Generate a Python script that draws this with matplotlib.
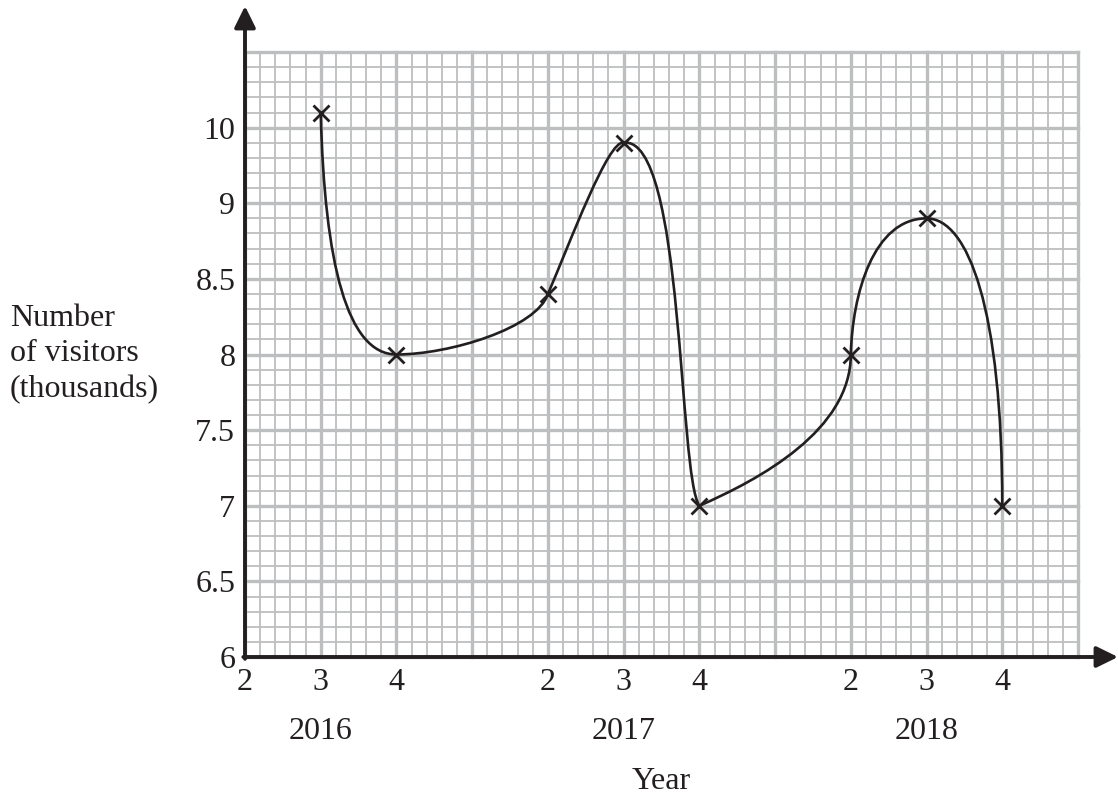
import numpy as np
import matplotlib
matplotlib.use("Agg")
import matplotlib.pyplot as plt
from matplotlib.path import Path
from matplotlib.patches import PathPatch

plt.rcParams['font.family'] = ['Liberation Serif', 'DejaVu Serif']
ink = '#231f20'
grey = '#bcbec0'

# data: visitors (thousands) per quarter
years = np.array([2016, 2016, 2017, 2017, 2017, 2018, 2018, 2018])
quarters = np.array([3, 4, 2, 3, 4, 2, 3, 4])
visitors = np.array([10.2, 8.0, 8.4, 9.8, 7.0, 8.0, 8.9, 7.0])

# the vertical scale is not uniform: each major square is one of these steps
y_ticks = [6, 6.5, 7, 7.5, 8, 8.5, 9, 10, 11]
y_labels = ['6', '6.5', '7', '7.5', '8', '8.5', '9', '10', '']
x_labels = ['2', '3', '4', '', '2', '3', '4', '', '2', '3', '4', '']
year_labels = [2016, 2017, 2018]

y_idx = np.arange(len(y_ticks))
fwd = lambda v: np.interp(v, y_ticks, y_idx)
inv = lambda p: np.interp(p, y_idx, y_ticks)

# quarter index counted from Q2 2016
xq = (years - 2016) * 4 + quarters - 2

# bezier handles (grid squares) for the hand-drawn curve
h_out = [(0.05, -2.0), (0.7, 0.0), (0.3, 0.7), (0.8, 0.1), (0.8, 0.35), (0.02, 0.8), (0.55, 0.0)]
h_in = [(-0.65, 0.0), (-0.15, -0.45), (-0.2, 0.05), (-0.28, 0.4), (0.0, -1.0), (-0.7, 0.0), (0.0, 2.6)]

fig = plt.figure(figsize=(11.18, 7.99), dpi=100)
ax = fig.add_axes([245 / 1118, 1 - 657 / 799, 833 / 1118, 605 / 799])
ax.set_yscale('function', functions=(fwd, inv))
ax.set_xlim(0, 11)
ax.set_ylim(6, 11)

# graph paper
ax.set_xticks(range(12), labels=x_labels)
ax.set_xticks(np.arange(0, 11.01, 0.2), minor=True)
ax.set_yticks(y_ticks, labels=y_labels)
ax.set_yticks(inv(np.arange(0, 8.01, 0.2)), minor=True)
ax.grid(which='minor', color=grey, lw=1.3)
ax.grid(which='major', color=grey, lw=2.4)
for ln in ax.get_xgridlines() + ax.get_ygridlines():
    ln.set_clip_on(False)
ax.set_axisbelow(True)
ax.tick_params(which='both', length=0, labelsize=23, labelcolor=ink)
ax.tick_params(axis='y', pad=7)
ax.tick_params(axis='x', pad=8)
for s in ax.spines.values():
    s.set_visible(False)

# axes with arrow heads
arr = dict(arrowstyle='-|>,head_length=0.65,head_width=0.32', color=ink, lw=2.8,
           mutation_scale=20, shrinkA=0, shrinkB=0)
ax.annotate('', xy=(0, 1.076), xytext=(0, -0.003), xycoords='axes fraction', arrowprops=arr)
ax.annotate('', xy=(1.048, 0), xytext=(-0.002, 0), xycoords='axes fraction', arrowprops=arr)

# smooth curve through the points
yq = fwd(visitors)
verts = [(xq[0], yq[0])]
codes = [Path.MOVETO]
for i in range(len(xq) - 1):
    verts += [(xq[i] + h_out[i][0], yq[i] + h_out[i][1]),
              (xq[i + 1] + h_in[i][0], yq[i + 1] + h_in[i][1]),
              (xq[i + 1], yq[i + 1])]
    codes += [Path.CURVE4] * 3
verts = np.array(verts)
verts[:, 1] = inv(verts[:, 1])
ax.add_patch(PathPatch(Path(verts, codes), fill=False, ec=ink, lw=1.9,
                       transform=ax.transData, zorder=3))

ax.plot(xq, visitors, ls='none', marker='x', ms=11.5, mew=2.0, color=ink, zorder=4)

for k, yr in enumerate(year_labels):
    ax.text((yr - 2016) * 4 + 1, -0.123, str(yr), transform=ax.get_xaxis_transform(),
            ha='center', va='center', fontsize=23, color=ink)
ax.text(0.5, -0.205, 'Year', transform=ax.transAxes, ha='center', va='center',
        fontsize=23, color=ink)
fig.text(10 / 1118, 1 - 354 / 799, 'Number\nof visitors\n(thousands)', ha='left',
         va='center', fontsize=23, color=ink, linespacing=1.3)

fig.savefig('out.png', dpi=100)
